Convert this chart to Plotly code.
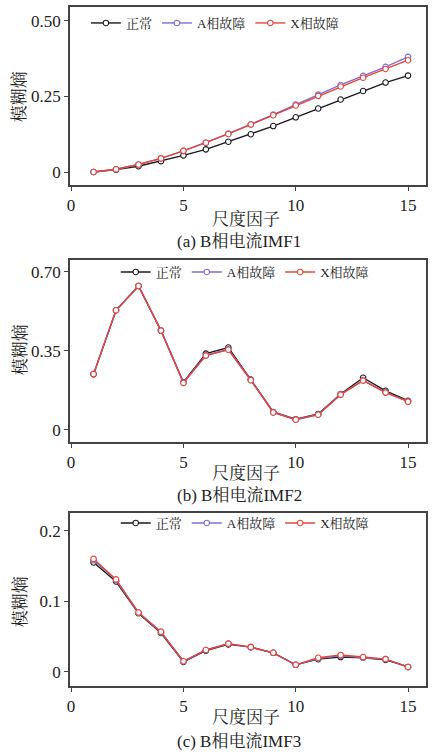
import plotly.graph_objects as go
from plotly.subplots import make_subplots

scales = list(range(1, 16))
series_names = ["正常", "A相故障", "X相故障"]

# (a) IMF1
imf1_normal = [0.000, 0.008, 0.019, 0.036, 0.055, 0.075, 0.100, 0.125, 0.152, 0.181, 0.210, 0.240, 0.268, 0.296, 0.319]
imf1_a = [0.000, 0.009, 0.025, 0.045, 0.070, 0.097, 0.127, 0.158, 0.190, 0.223, 0.256, 0.288, 0.318, 0.348, 0.381]
imf1_x = [0.000, 0.009, 0.025, 0.045, 0.070, 0.097, 0.126, 0.157, 0.188, 0.220, 0.252, 0.283, 0.312, 0.341, 0.370]

# (b) IMF2
imf2_normal = [0.246, 0.529, 0.637, 0.439, 0.210, 0.337, 0.364, 0.222, 0.078, 0.046, 0.069, 0.158, 0.230, 0.172, 0.128]
imf2_a = [0.246, 0.529, 0.637, 0.439, 0.208, 0.330, 0.356, 0.220, 0.076, 0.045, 0.067, 0.156, 0.219, 0.165, 0.125]
imf2_x = [0.246, 0.529, 0.637, 0.439, 0.207, 0.328, 0.354, 0.219, 0.076, 0.044, 0.066, 0.155, 0.217, 0.164, 0.124]

# (c) IMF3
imf3_normal = [0.155, 0.128, 0.083, 0.055, 0.014, 0.030, 0.039, 0.035, 0.027, 0.010, 0.018, 0.021, 0.020, 0.017, 0.007]
imf3_a = [0.158, 0.130, 0.084, 0.056, 0.015, 0.031, 0.040, 0.035, 0.027, 0.010, 0.019, 0.023, 0.020, 0.018, 0.007]
imf3_x = [0.160, 0.131, 0.084, 0.057, 0.015, 0.031, 0.040, 0.035, 0.027, 0.010, 0.020, 0.024, 0.021, 0.018, 0.007]

x_ticks = [0, 5, 10, 15]
y_ticks_a = [0, 0.25, 0.50]
y_text_a = ["0", "0.25", "0.50"]
y_ticks_b = [0, 0.35, 0.70]
y_text_b = ["0", "0.35", "0.70"]
y_ticks_c = [0, 0.1, 0.2]
y_text_c = ["0", "0.1", "0.2"]

captions = ["(a) B相电流IMF1", "(b) B相电流IMF2", "(c) B相电流IMF3"]
x_title = "尺度因子"
y_title = "模糊熵"

FONT = "Liberation Serif, Noto Serif CJK SC, Noto Sans CJK SC, serif"
colors = ["#1a1a1a", "#7b6fd0", "#e8443a"]
marker_fill = "white"

W, H = 433, 754
ML, MR, MT, MB = 70, 5, 7, 68
ph = H - MT - MB

def py(p):  # pixel y -> paper y
    return (H - MB - p) / ph

def px(p):
    return (p - ML) / (W - ML - MR)

fig = make_subplots(rows=3, cols=1)
fig.update_layout(
    yaxis=dict(domain=[py(185), py(7)]),
    yaxis2=dict(domain=[py(442), py(260)]),
    yaxis3=dict(domain=[py(686), py(513)]),
)

data = [
    (imf1_normal, imf1_a, imf1_x),
    (imf2_normal, imf2_a, imf2_x),
    (imf3_normal, imf3_a, imf3_x),
]
legend_ids = ["legend", "legend2", "legend3"]
for i, triple in enumerate(data):
    for j, vals in enumerate(triple):
        fig.add_trace(
            go.Scatter(
                x=scales, y=vals, mode="lines+markers", name=series_names[j],
                line=dict(color=colors[j], width=1.4),
                marker=dict(symbol="circle", size=5.5, color=marker_fill,
                            line=dict(color=colors[j], width=1.1)),
                legend=legend_ids[i], showlegend=True,
            ),
            row=i + 1, col=1,
        )

axis_common = dict(
    showgrid=False, zeroline=False, showline=True, linecolor="#444444", linewidth=1.5,
    mirror=True, ticks="outside", ticklen=4, tickwidth=1, tickcolor="#444444",
    tickfont=dict(family=FONT, size=17, color="#222222"),
)
yranges = [[-0.043, 0.546], [-0.055, 0.752], [-0.020, 0.225]]
yt = [(y_ticks_a, y_text_a), (y_ticks_b, y_text_b), (y_ticks_c, y_text_c)]
for i in range(3):
    fig.update_xaxes(range=[-0.05, 15.8], tickvals=x_ticks, row=i + 1, col=1, **axis_common)
    fig.update_yaxes(range=yranges[i], tickvals=yt[i][0], ticktext=yt[i][1], row=i + 1, col=1, **axis_common)

legend_common = dict(
    orientation="h", bgcolor="rgba(0,0,0,0)", borderwidth=0,
    font=dict(family=FONT, size=13, color="#222222"),
    xanchor="left", yanchor="middle", itemwidth=30, tracegroupgap=0,
)
fig.update_layout(
    legend=dict(x=px(86), y=py(23), **legend_common),
    legend2=dict(x=px(116), y=py(272), **legend_common),
    legend3=dict(x=px(116), y=py(523), **legend_common),
)

ann = []
xtitle_y = [219, 473, 717]
cap_y = [241.5, 495, 741]
ytitle_y = [97, 350, 602]
for i in range(3):
    ann.append(dict(text=x_title, x=px(247), y=py(xtitle_y[i]), xref="paper", yref="paper",
                    showarrow=False, xanchor="center", yanchor="middle",
                    font=dict(family=FONT, size=17, color="#222222")))
    ann.append(dict(text=captions[i], x=px(240), y=py(cap_y[i]), xref="paper", yref="paper",
                    showarrow=False, xanchor="center", yanchor="middle",
                    font=dict(family=FONT, size=17, color="#222222")))
    ann.append(dict(text=y_title, x=px(20), y=py(ytitle_y[i]), xref="paper", yref="paper",
                    showarrow=False, xanchor="center", yanchor="middle", textangle=-90,
                    font=dict(family=FONT, size=17, color="#222222")))

fig.update_layout(
    width=W, height=H, margin=dict(l=ML, r=MR, t=MT, b=MB),
    paper_bgcolor="white", plot_bgcolor="white", annotations=ann,
)

fig.write_html("out.html")
